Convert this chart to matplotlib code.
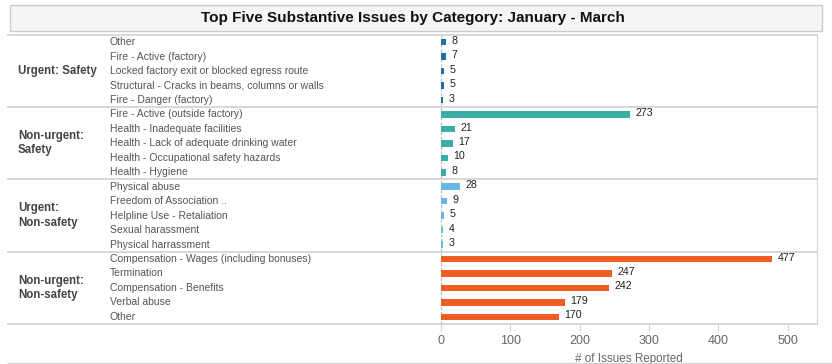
import matplotlib
matplotlib.use("Agg")
import matplotlib.pyplot as plt
import matplotlib.transforms as mtransforms
from matplotlib.patches import Rectangle
from matplotlib.lines import Line2D

plt.rcParams['font.family'] = ['Liberation Sans', 'DejaVu Sans']

# data
categories = ['Urgent: Safety', 'Non-urgent:\nSafety', 'Urgent:\nNon-safety', 'Non-urgent:\nNon-safety']
cat_colors = ['#1f6ea6', '#3aaea6', '#6cb6e4', '#f15d22']
issues = [
    ['Other', 'Fire - Active (factory)', 'Locked factory exit or blocked egress route',
     'Structural - Cracks in beams, columns or walls', 'Fire - Danger (factory)'],
    ['Fire - Active (outside factory)', 'Health - Inadequate facilities',
     'Health - Lack of adequate drinking water', 'Health - Occupational safety hazards',
     'Health - Hygiene'],
    ['Physical abuse', 'Freedom of Association ..', 'Helpline Use - Retaliation',
     'Sexual harassment', 'Physical harrassment'],
    ['Compensation - Wages (including bonuses)', 'Termination', 'Compensation - Benefits',
     'Verbal abuse', 'Other'],
]
counts = [
    [8, 7, 5, 5, 3],
    [273, 21, 17, 10, 8],
    [28, 9, 5, 4, 3],
    [477, 247, 242, 179, 170],
]

W, H = 832, 364
fig = plt.figure(figsize=(W / 100, H / 100), dpi=100)
ax = fig.add_axes([440.7 / W, 1 - 324 / H, (817 - 440.7) / W, (324 - 35) / H])

grid_col = '#d4d4d4'
lbl = mtransforms.blended_transform_factory(fig.transFigure, ax.transData)

row = 0
for g, cat in enumerate(categories):
    ys = list(range(row, row + len(issues[g])))
    ax.barh(ys, counts[g], height=0.45, color=cat_colors[g], zorder=3)
    for y, name, v in zip(ys, issues[g], counts[g]):
        ax.text(110 / W, y, name, transform=lbl, ha='left', va='center',
                fontsize=7.45, color='#555555')
        ax.annotate(str(v), (v, y), xytext=(4, 1), textcoords='offset points',
                    ha='left', va='center', fontsize=7.7, color='#222222')
    ax.text(18 / W, (ys[0] + ys[-1]) / 2, cat, transform=lbl, ha='left', va='center',
            fontsize=8.3, fontweight='bold', color='#444444', linespacing=1.25)
    row += len(issues[g])
    # group separator running across label columns and plot
    ax.add_line(Line2D([8 / W, 817 / W], [row - 0.5, row - 0.5], transform=lbl,
                       color=grid_col, lw=1.3, clip_on=False, zorder=1))

ax.add_line(Line2D([8 / W, 817 / W], [-0.5, -0.5], transform=lbl,
                   color=grid_col, lw=1.3, clip_on=False, zorder=1))

ax.set_ylim(row - 0.5, -0.5)
ax.set_xlim(0, 542)
ax.set_yticks([])
ax.set_xticks(range(0, 501, 100))
ax.tick_params(axis='x', length=5, color=grid_col, labelcolor='#666666', labelsize=9, pad=3)
ax.axvline(0, color='#bbbbbb', lw=1, ls=(0, (2, 1.5)), zorder=2)
for s in ['top', 'left', 'bottom']:
    ax.spines[s].set_visible(False)
ax.spines['right'].set_color(grid_col)
ax.set_xlabel('# of Issues Reported', fontsize=8.4, color='#666666', labelpad=4)

# bottom frame line of the axis band
fig.add_artist(Line2D([8 / W, 1], [1 - 363 / H, 1 - 363 / H], color=grid_col, lw=1))

# title box
fig.add_artist(Rectangle((10 / W, 1 - 31 / H), 812 / W, 26 / H, transform=fig.transFigure,
                         facecolor='#f5f5f5', edgecolor='#cccccc', lw=1))
fig.text(413 / W, 1 - 18 / H, 'Top Five Substantive Issues by Category: January - March',
         ha='center', va='center', fontsize=11, fontweight='bold', color='#111111')

fig.savefig('out.png', dpi=100, facecolor='white')
